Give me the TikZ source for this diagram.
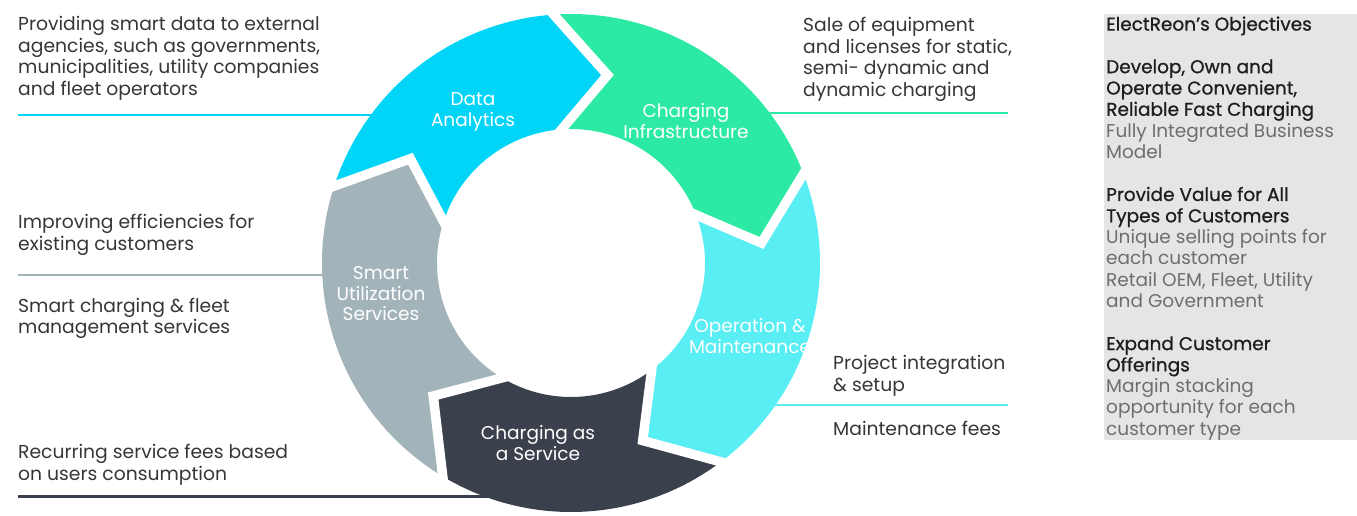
\documentclass[tikz,border=0pt]{standalone}
\usepackage{fontspec}
\setmainfont{Poppins}
\newfontfamily\headfont{Poppins}[FakeBold=0.8]
\definecolor{daC}{HTML}{00D5F8}
\definecolor{ciC}{HTML}{2CEAA3}
\definecolor{omC}{HTML}{58EEF4}
\definecolor{caC}{HTML}{3B414C}
\definecolor{suC}{HTML}{A2B4BA}
\definecolor{txt}{HTML}{363636}
\definecolor{sideBg}{HTML}{E4E5E7}
\definecolor{sideHead}{HTML}{1E1E1E}
\definecolor{sideBody}{HTML}{6E6E6E}
% one chevron-shaped piece of the ring: back angle, front angle, colour
\newcommand\ringsegment[3]{%
  \fill[#3] (#1:\ringRo) arc[start angle=#1,end angle=#2,radius=\ringRo]
    -- ({#2+15}:\ringRm) -- (#2:\ringRi)
    arc[start angle=#2,end angle=#1,radius=\ringRi]
    -- ({#1+15}:\ringRm) -- cycle;}
\newcommand\hd[1]{\textcolor{sideHead}{\headfont #1}}
\newcommand\bd[1]{\textcolor{sideBody}{#1}}
\def\ringRo{249}
\def\ringRi{134}
\def\ringRm{191.5}
\begin{document}
\begin{tikzpicture}[x=1pt,y=-1pt,
  desc/.style={anchor=north west,inner sep=0pt,align=left,text=txt,
    font=\fontsize{18.75}{21.6}\selectfont},
  seglabel/.style={inner sep=0pt,align=center,text=white,
    font=\fontsize{18.5}{20.5}\selectfont},
  rule/.style={line width=2.5pt},
  segcut/.style={draw=white,line width=9.5pt,line join=miter,line cap=butt,
    shorten <=-9pt,shorten >=-9pt},
  sidetext/.style={anchor=north west,inner sep=0pt,align=left,
    font=\fontsize{18.5}{21.3}\selectfont}]
\useasboundingbox (0,0) rectangle (1357,515);

% side panel
\fill[sideBg] (1104,14) rectangle (1357,440);
\node[sidetext] (objectives) at (1106,16.3) {%
  \hd{ElectReon’s Objectives}\\[21.3pt]
  \hd{Develop, Own and}\\
  \hd{Operate Convenient,}\\
  \hd{Reliable Fast Charging}\\
  \bd{Fully Integrated Business}\\
  \bd{Model}\\[21.3pt]
  \hd{Provide Value for All}\\
  \hd{Types of Customers}\\
  \bd{Unique selling points for}\\
  \bd{each customer}\\
  \bd{Retail OEM, Fleet, Utility}\\
  \bd{and Government}\\[21.3pt]
  \hd{Expand Customer}\\
  \hd{Offerings}\\
  \bd{Margin stacking}\\
  \bd{opportunity for each}\\
  \bd{customer type}};

% descriptions around the cycle
\node[desc] (dataText) at (18,16.1) {Providing smart data to external\\
  agencies, such as governments,\\ municipalities, utility companies\\ and fleet operators};
\node[desc] (effText) at (18,214.1) {Improving efficiencies for\\ existing customers};
\node[desc] (smartText) at (18,297.6) {Smart charging \& fleet\\ management services};
\node[desc] (feesText) at (18,444.4) {Recurring service fees based\\ on users consumption};
\node[desc] (saleText) at (803,17.1) {Sale of equipment\\ and licenses for static,\\
  semi- dynamic and\\ dynamic charging};
\node[desc] (projText) at (833,355.1) {Project integration\\ \& setup};
\node[desc] (maintText) at (833,421.1) {Maintenance fees};

% leader rules running into the ring
\coordinate (daL) at (18,115);   \coordinate (daR) at (390,115);
\coordinate (suL) at (18,275);   \coordinate (suR) at (340,275);
\coordinate (caL) at (18,496.5); \coordinate (caR) at (500,496.5);
\coordinate (ciL) at (760,113);  \coordinate (ciR) at (1008,113);
\coordinate (omL) at (765,405);  \coordinate (omR) at (1008,405);
\draw[rule,daC] (daL) -- (daR);
\draw[rule,suC] (suL) -- (suR);
\draw[rule,caC] (caL) -- (caR);
\draw[rule,ciC] (ciL) -- (ciR);
\draw[rule,omC] (omL) -- (omR);

% the ring of five arrows
\begin{scope}[shift={(571,263)}]
  \ringsegment{-162}{-94}{daC}
  \ringsegment{-94}{-21}{ciC}
  \ringsegment{-21}{53}{omC}
  \ringsegment{53}{121}{caC}
  \ringsegment{121}{198}{suC}
  \foreach \b in {-94,-21,53,121,198}
    \draw[segcut] (\b:\ringRo) -- ({\b+15}:\ringRm) -- (\b:\ringRi);
\end{scope}

% labels on the ring
\node[seglabel] (da) at (473,112) {Data\\ Analytics};
\node[seglabel] (ci) at (686,121) {Charging\\ Infrastructure};
\node[seglabel] (om) at (750,336) {Operation \&\\ Maintenance};
\node[seglabel] (ca) at (538,443) {Charging as\\ a Service};
\node[seglabel] (su) at (381,294) {Smart\\ Utilization\\ Services};
\end{tikzpicture}
\end{document}
